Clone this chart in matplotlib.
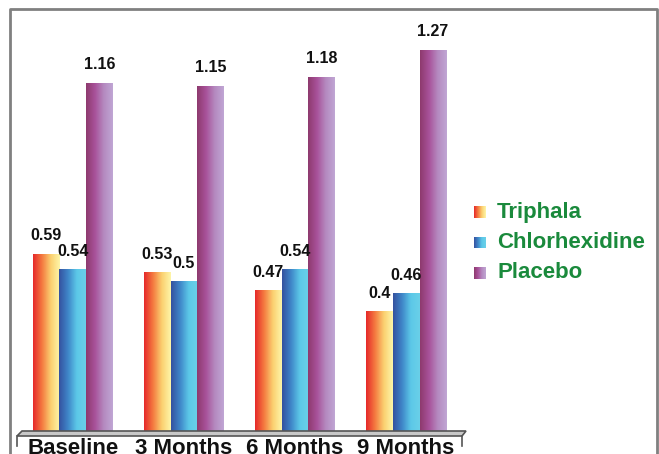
import matplotlib.pyplot as plt
import numpy as np
from matplotlib.colors import LinearSegmentedColormap
from matplotlib.patches import Polygon
from matplotlib.lines import Line2D

plt.rcParams['font.family'] = ['Liberation Sans', 'DejaVu Sans']

categories = ['Baseline', '3 Months', '6 Months', '9 Months']
series = ['Triphala', 'Chlorhexidine', 'Placebo']
triphala = [0.59, 0.53, 0.47, 0.40]
chlorhexidine = [0.54, 0.50, 0.54, 0.46]
placebo = [1.16, 1.15, 1.18, 1.27]
labels = [['0.59', '0.53', '0.47', '0.4'],
          ['0.54', '0.5', '0.54', '0.46'],
          ['1.16', '1.15', '1.18', '1.27']]

cmaps = [
    LinearSegmentedColormap.from_list('tri', ['#e62a2a', '#f47a40', '#fbd070', '#fef5a8']),
    LinearSegmentedColormap.from_list('chx', ['#3552a0', '#3f86c8', '#5cc8e8', '#6ad0e8']),
    LinearSegmentedColormap.from_list('pla', ['#8e3a6e', '#a8529a', '#b58ac0', '#c0a6d4']),
]

W, H = 659, 454
fig = plt.figure(figsize=(W / 100, H / 100), dpi=100)

def fx(px):
    return px / W

def fy(py):
    return 1 - py / H

ax = fig.add_axes([fx(17), fy(432), fx(462) - fx(17), 421 / H])
ax.axis('off')

grad = np.linspace(0, 1, 64).reshape(1, -1)
x = np.arange(len(categories))
width = 0.24
offsets = [-width, 0, width]
for k, vals in enumerate([triphala, chlorhexidine, placebo]):
    bars = ax.bar(x + offsets[k], vals, width, color='none', edgecolor='none')
    for i, b in enumerate(bars):
        x0 = b.get_x()
        h = b.get_height()
        ax.imshow(grad, extent=[x0, x0 + width, 0, h], aspect='auto',
                  cmap=cmaps[k], zorder=2)
        ax.annotate(labels[k][i], (x0 + width / 2, h), xytext=(0, 8),
                    textcoords='offset points', ha='center', va='bottom',
                    fontsize=11.5, fontweight='bold', color='#111111')
ax.set_xlim(-0.5, 3.5)
ax.set_ylim(0, 1.4)

# floor platform
floor = Polygon([(fx(17), fy(436)), (fx(22), fy(431)), (fx(466), fy(431)),
                 (fx(462), fy(436))], closed=True, transform=fig.transFigure,
                facecolor='#c8c8c8', edgecolor='#555555', lw=1.2, zorder=1)
fig.add_artist(floor)
for px in [17, 462]:
    fig.add_artist(Line2D([fx(px), fx(px)], [fy(436), fy(446)],
                          transform=fig.transFigure, color='#555555', lw=1.2))

for i, c in enumerate(categories):
    cx = 73 + 111 * i
    fig.text(fx(cx), fy(438), c, ha='center', va='top', fontsize=16,
             fontweight='bold', color='#111111')

# legend
for k, name in enumerate(series):
    cy = 212 + 30.5 * k
    lax = fig.add_axes([fx(474), fy(cy + 6), 12 / W, 12 / H])
    lax.imshow(grad, aspect='auto', cmap=cmaps[k])
    lax.axis('off')
    fig.text(fx(497), fy(cy), name, ha='left', va='center', fontsize=16,
             fontweight='bold', color='#1a8a3c')

# outer frame
fig.add_artist(Line2D([fx(10), fx(10), fx(657), fx(657)],
                      [0, fy(9), fy(9), 0], transform=fig.transFigure,
                      color='#808080', lw=2))

fig.savefig('out.png', dpi=100)
